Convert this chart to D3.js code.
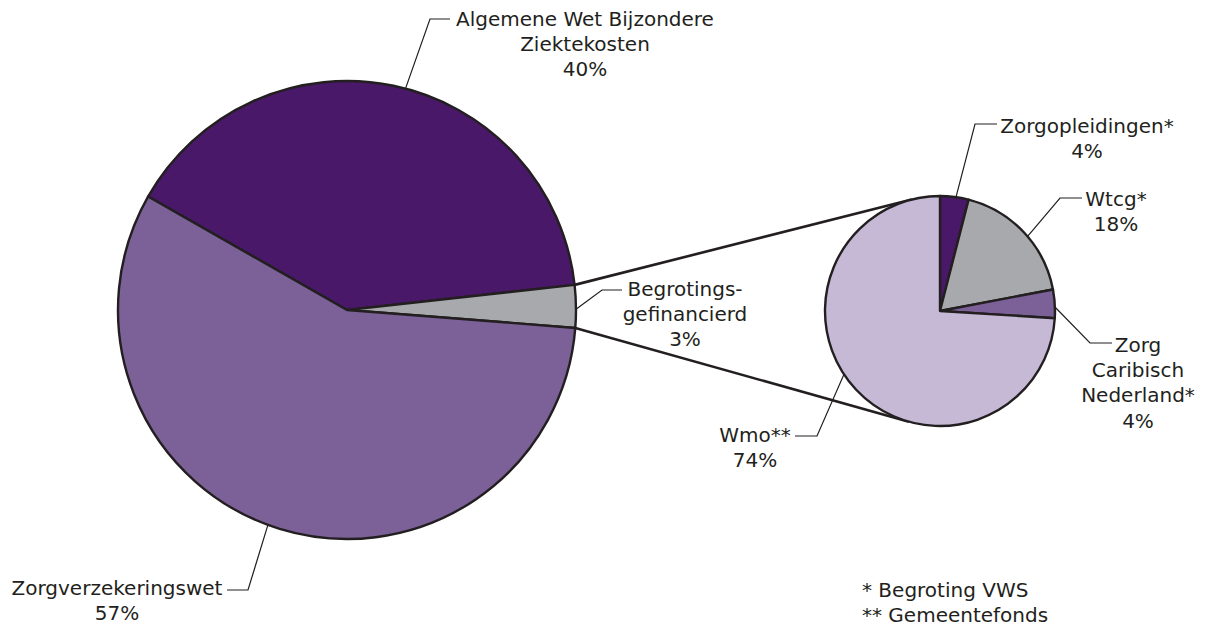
<!DOCTYPE html>
<html lang="nl">
<head>
    <meta charset="UTF-8">
    <title>Zorguitgaven</title>
    <script src="https://d3js.org/d3.v7.min.js"></script>
    <style>
        body { margin: 0; background: #fff; }
        text { font-family: "DejaVu Sans", sans-serif; font-size: 20px; fill: #231f20; }
    </style>
</head>
<body>
    <div id="chart"></div>

    <script>
        // data
        let mainLabels = ['Algemene Wet Bijzondere\nZiektekosten', 'Begrotings-\ngefinancierd', 'Zorgverzekeringswet'];
        let mainValues = [40, 3, 57];
        let subLabels = ['Zorgopleidingen*', 'Wtcg*', 'Zorg\nCaribisch\nNederland*', 'Wmo**'];
        let subValues = [4, 18, 4, 74];
        let notes = ['* Begroting VWS', '** Gemeentefonds'];

        let mainColors = ['#4a1868', '#a7a9ac', '#7b6198'];
        let subColors = ['#4a1868', '#a7a9ac', '#7b6198', '#c5b9d6'];

        // layout of the label leaders: edge angle (deg), elbow, end of horizontal, text centre, first baseline
        let mainLayout = [
            {a: 14.8, ex: 430, ey: 19, hx: 450, tx: 585, ty: 26},
            {a: 89.8, ex: 602, ey: 290, hx: 622, tx: 685, ty: 296},
            {a: 200.2, ex: 248, ey: 590, hx: 227, tx: 117, ty: 595}
        ];
        let subLayout = [
            {a: 8, ex: 975, ey: 124, hx: 997, tx: 1087, ty: 133},
            {a: 49.6, ex: 1060, ey: 198, hx: 1082, tx: 1116, ty: 206},
            {a: 88, ex: 1090, ey: 343, hx: 1112, tx: 1138, ty: 352},
            {a: 236.6, ex: 817, ey: 436, hx: 795, tx: 755, ty: 442}
        ];

        let svgWidth = 1207, svgHeight = 630;
        let lineH = 25.2;
        let rad = Math.PI / 180;

        let main = {cx: 347, cy: 310, r: 229};
        let sub = {cx: 940, cy: 311, r: 115};

        let svg = d3.select('#chart').append('svg')
            .attr('width', svgWidth)
            .attr('height', svgHeight);

        let mainArcs = d3.pie().sort(null).startAngle(-60.3 * rad).endAngle(299.7 * rad)(mainValues);
        let subArcs = d3.pie().sort(null)(subValues);

        function polar(c, ang, r) {
            return [c.cx + r * Math.sin(ang), c.cy - r * Math.cos(ang)];
        }

        // connector lines from the small slice to the tangents of the second pie
        let gray = mainArcs[1];
        let pts = [polar(main, gray.startAngle, main.r), polar(main, gray.endAngle, main.r)];
        pts.forEach(function(p, i) {
            let dx = p[0] - sub.cx, dy = p[1] - sub.cy;
            let L = Math.sqrt(dx * dx + dy * dy);
            let base = Math.atan2(dy, dx);
            let off = Math.acos(sub.r / L);
            let phi = i === 0 ? base + off : base - off;
            let t = [sub.cx + sub.r * Math.cos(phi), sub.cy + sub.r * Math.sin(phi)];
            if (i === 0 && t[1] > sub.cy) { phi = base - off; }
            if (i === 1 && t[1] < sub.cy) { phi = base + off; }
            t = [sub.cx + sub.r * Math.cos(phi), sub.cy + sub.r * Math.sin(phi)];
            svg.append('line')
                .attr('x1', p[0]).attr('y1', p[1])
                .attr('x2', t[0]).attr('y2', t[1])
                .attr('stroke', '#231f20')
                .attr('stroke-width', 2.6);
        });

        function drawPie(c, arcs, colors) {
            let arc = d3.arc().innerRadius(0).outerRadius(c.r);
            svg.append('g')
                .attr('transform', 'translate(' + c.cx + ',' + c.cy + ')')
                .selectAll('path')
                .data(arcs)
                .join('path')
                .attr('d', arc)
                .attr('fill', (d, i) => colors[i])
                .attr('stroke', '#231f20')
                .attr('stroke-width', 2.4)
                .attr('stroke-linejoin', 'round');
        }

        drawPie(main, mainArcs, mainColors);
        drawPie(sub, subArcs, subColors);

        function drawLabels(c, labels, values, layout) {
            labels.forEach(function(lab, i) {
                let l = layout[i];
                let p = polar(c, l.a * rad, c.r);
                svg.append('path')
                    .attr('d', d3.line()([p, [l.ex, l.ey], [l.hx, l.ey]]))
                    .attr('fill', 'none')
                    .attr('stroke', '#231f20')
                    .attr('stroke-width', 1.2);
                let lines = lab.split('\n').concat([values[i] + '%']);
                let t = svg.append('text')
                    .attr('text-anchor', 'middle');
                lines.forEach(function(s, j) {
                    t.append('tspan')
                        .attr('x', l.tx)
                        .attr('y', l.ty + j * lineH)
                        .text(s);
                });
            });
        }

        drawLabels(main, mainLabels, mainValues, mainLayout);
        drawLabels(sub, subLabels, subValues, subLayout);

        svg.append('text')
            .selectAll('tspan')
            .data(notes)
            .join('tspan')
            .attr('x', 862)
            .attr('y', (d, i) => 597 + i * lineH)
            .text(d => d);
    </script>
</body>
</html>
